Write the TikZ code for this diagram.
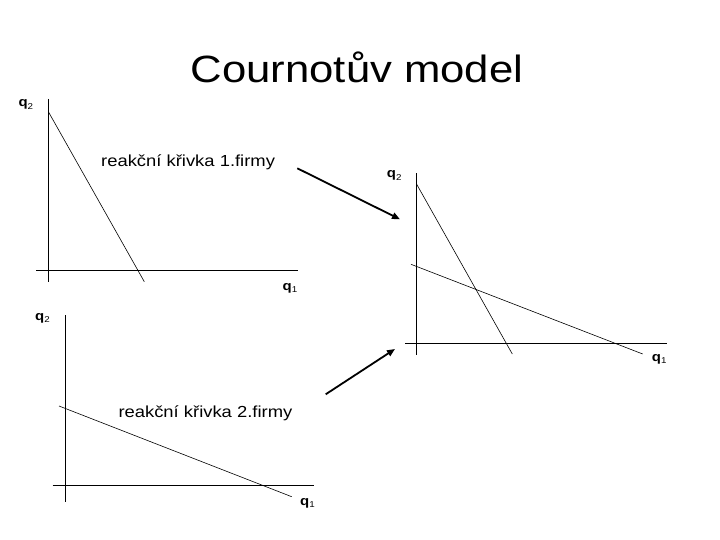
\documentclass[tikz,border=0pt]{standalone}
\usepackage{fontspec}
\setmainfont{Liberation Sans}[FakeStretch=1.15]
\usetikzlibrary{arrows.meta}
\newcommand{\qvar}[1]{\textbf{q}\raisebox{-2.3pt}{\fontsize{8.5}{10}\selectfont #1}}

\begin{document}
\begin{tikzpicture}[x=1pt, y=-1pt,
    axis/.style={line width=1pt},
    curve/.style={line width=0.6pt},
    qlabel/.style={anchor=base west, inner sep=0pt, font=\fontsize{13}{15}\selectfont},
    note/.style={anchor=base west, inner sep=0pt, font=\fontsize{16}{19}\selectfont},
    jump/.style={line width=1.8pt, -{Triangle[length=8pt, width=6.5pt]}}]
    \useasboundingbox (0,0) rectangle (720,540);
    \node[anchor=base, inner sep=0pt, font=\fontsize{38}{44}\selectfont] (title) at (357,83) {Cournotův model};

    % firm 1
    \coordinate (a1top) at (48.7,99);   \coordinate (a1bot) at (48.7,281.7);
    \coordinate (a1left) at (36,270.7); \coordinate (a1right) at (297.7,270.7);
    \coordinate (r1start) at (48.7,112.3); \coordinate (r1end) at (144.3,281.7);
    \draw[axis] (a1top) -- (a1bot);
    \draw[axis] (a1left) -- (a1right);
    \draw[curve] (r1start) -- (r1end);
    \node[qlabel] (q2a) at (18.3,107) {\qvar{2}};
    \node[qlabel] (q1a) at (282.5,290) {\qvar{1}};
    \node[note] (reac1) at (101,166.5) {reakční křivka 1.firmy};

    % both firms
    \coordinate (a2top) at (416.7,173.3);  \coordinate (a2bot) at (416.7,355);
    \coordinate (a2left) at (405,343.3);   \coordinate (a2right) at (666.7,343.3);
    \coordinate (s1start) at (416.7,184.3); \coordinate (s1end) at (512.3,354);
    \coordinate (s2start) at (411,264.3);   \coordinate (s2end) at (642.7,354);
    \draw[axis] (a2top) -- (a2bot);
    \draw[axis] (a2left) -- (a2right);
    \draw[curve] (s1start) -- (s1end);
    \draw[curve] (s2start) -- (s2end);
    \node[qlabel] (q2b) at (386.7,178) {\qvar{2}};
    \node[qlabel] (q1b) at (651.7,361.5) {\qvar{1}};

    % firm 2
    \coordinate (a3top) at (65.7,315);    \coordinate (a3bot) at (65.7,501.7);
    \coordinate (a3left) at (52.7,485);   \coordinate (a3right) at (314.3,485);
    \coordinate (r2start) at (59,406);    \coordinate (r2end) at (291.7,496.7);
    \draw[axis] (a3top) -- (a3bot);
    \draw[axis] (a3left) -- (a3right);
    \draw[curve] (r2start) -- (r2end);
    \node[qlabel] (q2c) at (35,320) {\qvar{2}};
    \node[qlabel] (q1c) at (300,505) {\qvar{1}};
    \node[note] (reac2) at (118.3,417) {reakční křivka 2.firmy};

    % arrows
    \coordinate (j1from) at (297.3,168.3); \coordinate (j1to) at (400,219.3);
    \coordinate (j2from) at (325.7,394.3); \coordinate (j2to) at (395,349);
    \draw[jump] (j1from) -- (j1to);
    \draw[jump] (j2from) -- (j2to);
\end{tikzpicture}
\end{document}
